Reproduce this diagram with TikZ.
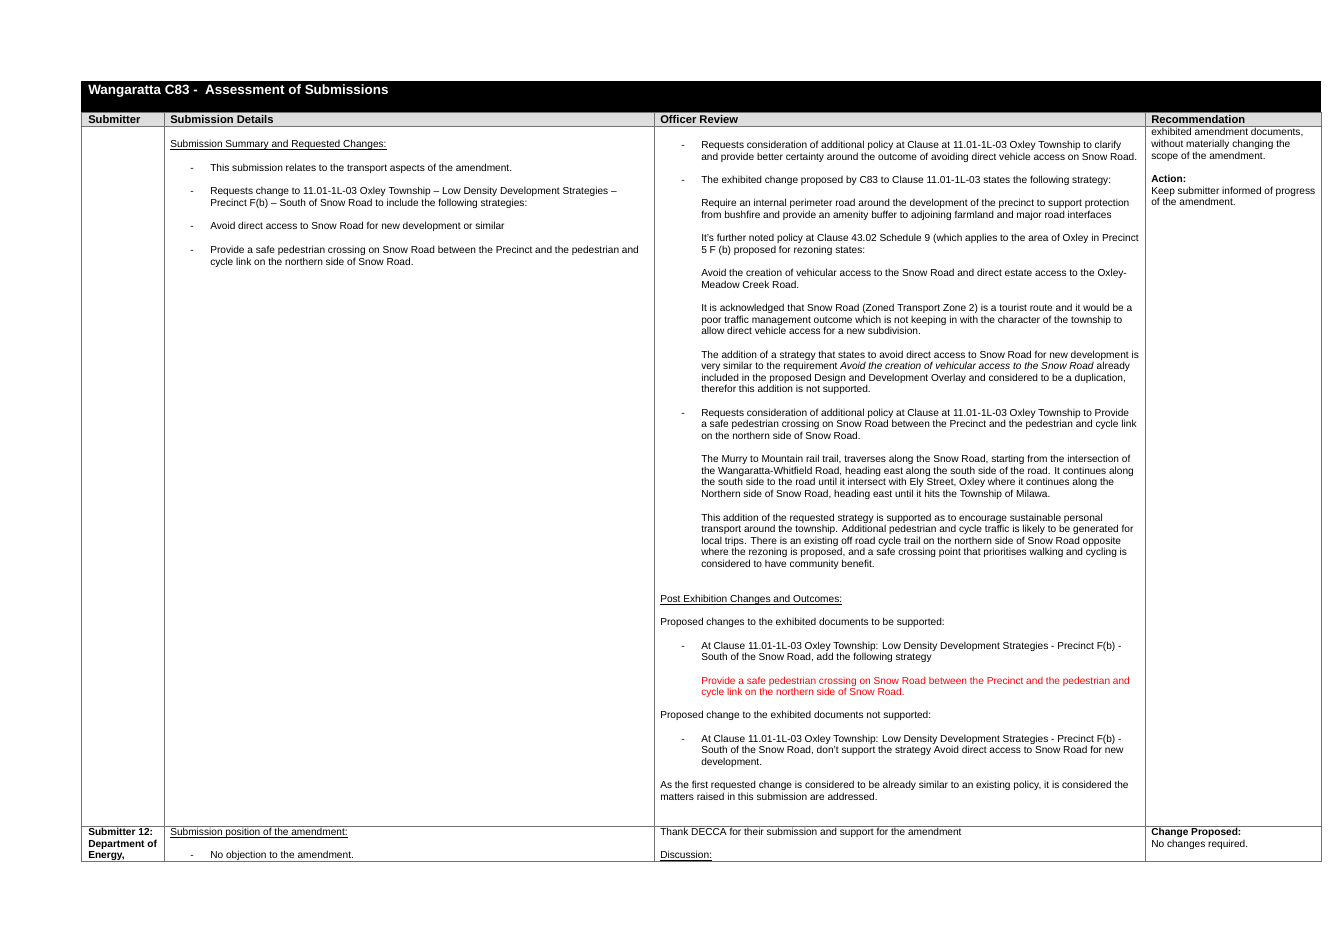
\documentclass[tikz,border=0pt]{standalone}
\usepackage{fontspec}
\setmainfont{Liberation Sans}
\newcommand\ulx[1]{\underline{\smash{#1}}}
\begin{document}
\begin{tikzpicture}[x=0.75pt,y=-0.75pt,
  txt/.style={anchor=base west,inner sep=0pt,font=\fontsize{7.6}{8}\selectfont},
  hdr/.style={txt,font=\fontsize{8.4}{9}\selectfont\bfseries},
  grid/.style={draw=black!55,line width=0.5pt}]
\newcommand\Ln[3]{\node[txt] at (#1,#2+3.6) {#3};}
\newcommand\Dl[3]{\node[txt] at (#1,#2+3.6) {-};\node[txt] at (#1+20,#2+3.6) {#3};}
\useasboundingbox (0,0) rectangle (1340,948);
\fill[white] (0,0) rectangle (1340,948);
\fill[black] (81,81) rectangle (1321,112);
\fill[black!13] (81,112) rectangle (1321,126);
\node[txt,white,font=\fontsize{10.1}{11}\selectfont\bfseries] (title) at (88,94.5) {Wangaratta C83 -\ \ Assessment of Submissions};
\draw[grid] (81,112) rectangle (1321,861);
\foreach \x in {164,654,1145} \draw[grid] (\x,112) -- (\x,861);
\draw[grid] (81,126) -- (1321,126);
\draw[grid] (81,826) -- (1321,826);
\node[hdr] (h1) at (88,123.5) {Submitter};
\node[hdr] (h2) at (170,123.5) {Submission Details};
\node[hdr] (h3) at (660,123.5) {Officer Review};
\node[hdr] (h4) at (1151,123.5) {Recommendation};
% details
\Ln{170}{144}{\ulx{Submission Summary and Requested Changes:}}
\Dl{190}{168}{This submission relates to the transport aspects of the amendment.}
\Dl{190}{191}{Requests change to 11.01-1L-03 Oxley Township – Low Density Development Strategies –}
\Ln{210}{203}{Precinct F(b) – South of Snow Road to include the following strategies:}
\Dl{190}{226}{Avoid direct access to Snow Road for new development or similar}
\Dl{190}{250}{Provide a safe pedestrian crossing on Snow Road between the Precinct and the pedestrian and}
\Ln{210}{262}{cycle link on the northern side of Snow Road.}
% officer
\Dl{681}{145}{Requests consideration of additional policy at Clause at 11.01-1L-03 Oxley Township to clarify}
\Ln{701}{157}{and provide better certainty around the outcome of avoiding direct vehicle access on Snow Road.}
\Dl{681}{180}{The exhibited change proposed by C83 to Clause 11.01-1L-03 states the following strategy:}
\Ln{701}{203}{Require an internal perimeter road around the development of the precinct to support protection}
\Ln{701}{215}{from bushfire and provide an amenity buffer to adjoining farmland and major road interfaces}
\Ln{701}{238}{It’s further noted policy at Clause 43.02 Schedule 9 (which applies to the area of Oxley in Precinct}
\Ln{701}{250}{5 F (b) proposed for rezoning states:}
\Ln{701}{273}{Avoid the creation of vehicular access to the Snow Road and direct estate access to the Oxley-}
\Ln{701}{285}{Meadow Creek Road.}
\Ln{701}{308}{It is acknowledged that Snow Road (Zoned Transport Zone 2) is a tourist route and it would be a}
\Ln{701}{320}{poor traffic management outcome which is not keeping in with the character of the township to}
\Ln{701}{331}{allow direct vehicle access for a new subdivision.}
\Ln{701}{355}{The addition of a strategy that states to avoid direct access to Snow Road for new development is}
\Ln{701}{366}{very similar to the requirement \textit{Avoid the creation of vehicular access to the Snow Road} already}
\Ln{701}{378}{included in the proposed Design and Development Overlay and considered to be a duplication,}
\Ln{701}{389}{therefor this addition is not supported.}
\Dl{681}{413}{Requests consideration of additional policy at Clause at 11.01-1L-03 Oxley Township to Provide}
\Ln{701}{424}{a safe pedestrian crossing on Snow Road between the Precinct and the pedestrian and cycle link}
\Ln{701}{436}{on the northern side of Snow Road.}
\Ln{701}{459}{The Murry to Mountain rail trail, traverses along the Snow Road, starting from the intersection of}
\Ln{701}{471}{the Wangaratta-Whitfield Road, heading east along the south side of the road. It continues along}
\Ln{701}{482}{the south side to the road until it intersect with Ely Street, Oxley where it continues along the}
\Ln{701}{494}{Northern side of Snow Road, heading east until it hits the Township of Milawa.}
\Ln{701}{518}{This addition of the requested strategy is supported as to encourage sustainable personal}
\Ln{701}{529}{transport around the township. Additional pedestrian and cycle traffic is likely to be generated for}
\Ln{701}{541}{local trips. There is an existing off road cycle trail on the northern side of Snow Road opposite}
\Ln{701}{552}{where the rezoning is proposed, and a safe crossing point that prioritises walking and cycling is}
\Ln{701}{564}{considered to have community benefit.}
\Ln{660}{599}{\ulx{Post Exhibition Changes and Outcomes:}}
\Ln{660}{622}{Proposed changes to the exhibited documents to be supported:}
\Dl{681}{646}{At Clause 11.01-1L-03 Oxley Township: Low Density Development Strategies - Precinct F(b) -}
\Ln{701}{657}{South of the Snow Road, add the following strategy}
\Ln{701}{681}{\color{red}Provide a safe pedestrian crossing on Snow Road between the Precinct and the pedestrian and}
\Ln{701}{692}{\color{red}cycle link on the northern side of Snow Road.}
\Ln{660}{715}{Proposed change to the exhibited documents not supported:}
\Dl{681}{739}{At Clause 11.01-1L-03 Oxley Township: Low Density Development Strategies - Precinct F(b) -}
\Ln{701}{750}{South of the Snow Road, don’t support the strategy Avoid direct access to Snow Road for new}
\Ln{701}{762}{development.}
\Ln{660}{785}{As the first requested change is considered to be already similar to an existing policy, it is considered the}
\Ln{660}{797}{matters raised in this submission are addressed.}
\Ln{660}{832}{Thank DECCA for their submission and support for the amendment}
\Ln{660}{855}{\ulx{Discussion:}}
% recommendation
\Ln{1151}{132}{exhibited amendment documents,}
\Ln{1151}{144}{without materially changing the}
\Ln{1151}{156}{scope of the amendment.}
\Ln{1151}{179}{\bfseries Action:}
\Ln{1151}{191}{Keep submitter informed of progress}
\Ln{1151}{202}{of the amendment.}
\Ln{1151}{832}{\bfseries Change Proposed:}
\Ln{1151}{844}{No changes required.}
% submitter 12
\Ln{88}{832}{\bfseries Submitter 12:}
\Ln{88}{844}{\bfseries Department of}
\Ln{88}{855}{\bfseries Energy,}
\Ln{170}{832}{\ulx{Submission position of the amendment:}}
\Dl{190}{855}{No objection to the amendment.}
\end{tikzpicture}
\end{document}
